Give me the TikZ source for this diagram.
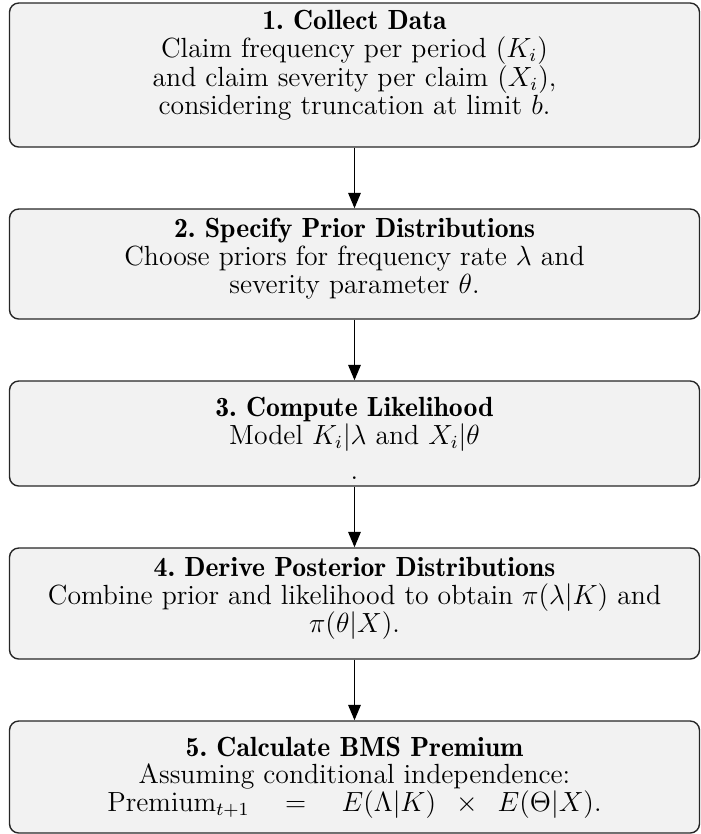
\documentclass[tikz,border=0pt]{standalone}
\usetikzlibrary{arrows.meta}
\newcommand{\steptitle}[1]{{\fontseries{b}\selectfont #1}}
\begin{document}
\begin{tikzpicture}[x=0.4329pt,y=-0.4329pt,
  stepbox/.style={draw=black!85, fill=gray!10, rounded corners=4pt, line width=0.6pt, minimum width=690*0.4329pt, inner sep=0pt},
  steptext/.style={anchor=north, align=center, inner sep=0pt, font=\fontsize{12}{12}\selectfont},
  flow/.style={-{Triangle[length=6.7pt,width=5.4pt]}, line width=0.75pt}]
\useasboundingbox (0,0) rectangle (701,834);
\node[stepbox, minimum height=144*0.4329pt] (b1) at (354.5,75) {};
\node[stepbox, minimum height=110*0.4329pt] (b2) at (354.5,264) {};
\node[stepbox, minimum height=105*0.4329pt] (b3) at (354.5,433.5) {};
\node[stepbox, minimum height=111*0.4329pt] (b4) at (354.5,603.5) {};
\node[stepbox, minimum height=112*0.4329pt] (b5) at (354.5,777) {};
\node[steptext] (t1) at ([yshift=-3.4pt]b1.north) {\steptitle{1.\ Collect Data}\\ Claim frequency per period $(K_i)$\\[0.3pt] and claim severity per claim $(X_i)$,\\[0.3pt] considering truncation at limit $b$.};
\node[steptext] (t2) at ([yshift=-4.2pt]b2.north) {\steptitle{2.\ Specify Prior Distributions}\\ Choose priors for frequency rate $\lambda$ and\\ severity parameter $\theta$.};
\node[steptext] (t3) at ([yshift=-7.2pt]b3.north) {\steptitle{3.\ Compute Likelihood}\\ Model $K_i|\lambda$ and $X_i|\theta$\\[3pt] .};
\node[steptext] (t4) at ([yshift=-4.2pt]b4.north) {\steptitle{4.\ Derive Posterior Distributions}\\ Combine prior and likelihood to obtain $\pi(\lambda|K)$ and\\ $\pi(\theta|X)$.};
\node[steptext] (t5) at ([yshift=-7.0pt]b5.north) {\steptitle{5.\ Calculate BMS Premium}\\ Assuming conditional independence:\\ $\mathrm{Premium}_{t+1}\quad=\quad E(\Lambda|K)\enskip\times\enskip E(\Theta|X)$.};
\draw[flow] (b1) -- (b2);
\draw[flow] (b2) -- (b3);
\draw[flow] (b3) -- (b4);
\draw[flow] (b4) -- (b5);
\end{tikzpicture}
\end{document}
